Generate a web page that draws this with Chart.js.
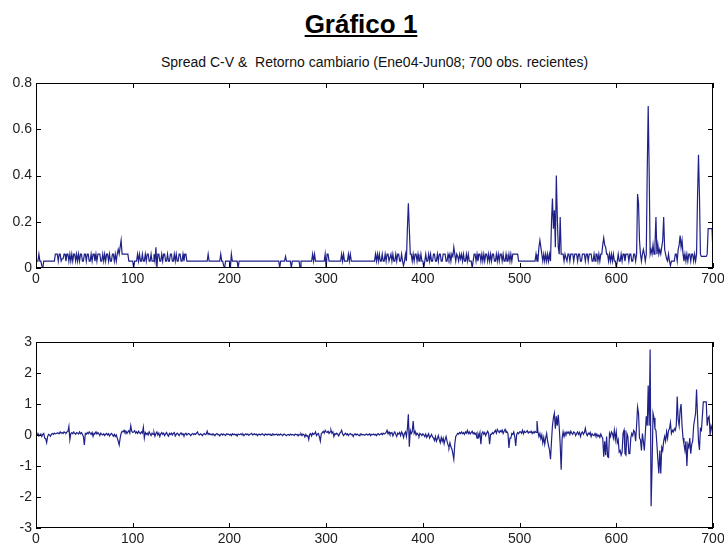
<!DOCTYPE html>
<html>
<head>
<meta charset="utf-8">
<script src="https://cdn.jsdelivr.net/npm/chart.js@4.4.1/dist/chart.umd.min.js"></script>
<style>
  body { margin: 0; background: #fff; font-family: 'Liberation Sans', Arial, sans-serif; }
  #page { position: relative; width: 724px; height: 546px; overflow: hidden; background: #fff; }
  h1 { position: absolute; top: 9px; left: 0; width: 722px; margin: 0; text-align: center;
       font-size: 26px; line-height: 30px; font-weight: bold; text-decoration: underline; color: #000; }
  #subtitulo { position: absolute; top: 53px; left: 36px; width: 677px; text-align: center;
       font-size: 14px; line-height: 18px; color: #111; white-space: pre; }
  .panel { position: absolute; left: 0; width: 724px; }
</style>
</head>
<body>
<div id="page">
  <h1>Gráfico 1</h1>
  <div id="subtitulo"></div>
  <div class="panel" style="top:40px;height:250px"><canvas id="spreadChart" width="724" height="250"></canvas></div>
  <div class="panel" style="top:300px;height:246px"><canvas id="retornoChart" width="724" height="246"></canvas></div>
</div>
<script>
// spread compra-venta, 700 observaciones
const spread = [
  .03,.03,.06,.03,.03,.01,0,.03,.03,.03,
  .03,.03,.03,.03,.03,.03,.03,.03,.03,.06,
  .06,.06,.03,.06,.06,.03,.04,.04,.06,.06,
  .03,.06,.06,.03,.06,.03,.06,.03,.06,.06,
  .03,.06,.03,.06,.03,.06,.06,.03,.03,.06,
  .06,.03,.06,.06,.03,.03,.06,.03,.06,.06,
  .03,.06,.03,.06,.06,.06,.03,.03,.06,.03,
  .06,.03,.06,.06,.03,.06,.03,.03,.06,.06,
  .03,.06,.03,.06,.08,.06,.09,.12,.06,.06,
  .06,.06,.06,.06,.06,.03,.03,.03,.03,.03,
  0,.03,.03,.03,.06,.03,.06,.03,.03,.06,
  .03,.03,.06,.03,.06,.06,.03,.03,.06,.03,
  .03,.06,.03,.09,0,.06,.06,.03,.03,.06,
  .03,.06,.06,.03,.03,.06,.03,.03,.06,.06,
  .03,.03,.06,.03,.06,.03,.03,.06,.06,.03,
  .03,.06,.03,.06,.06,.03,.03,.03,.03,.03,
  .03,.03,.03,.03,.03,.03,.03,.03,.03,.03,
  .03,.03,.03,.03,.03,.03,.03,.06,.03,.03,
  .03,.03,.03,.03,.03,.03,.03,.03,.03,.03,
  .06,.03,.03,.01,0,.03,.03,.03,.03,.03,
  0,.06,.03,.03,.03,.03,.03,.03,0,.03,
  .03,.03,.03,.03,.03,.03,.03,.03,.03,.03,
  .03,.03,.03,.03,.03,.03,.03,.03,.03,.03,
  .03,.03,.03,.03,.03,.03,.03,.03,.03,.03,
  .03,.03,.03,.03,.03,.03,.03,.03,.03,.03,
  .03,0,.03,.03,.03,.03,.03,.05,.03,.03,
  .03,.03,.03,0,.03,.03,.03,.03,.03,.03,
  .03,.03,0,.03,.03,.03,.03,.03,.03,.03,
  .03,.03,.03,.03,.03,.06,.03,.06,.03,.03,
  .03,.03,.03,.03,.03,.03,.03,.03,.06,0,
  .06,.06,.03,.03,.03,.03,.03,.03,.03,.03,
  .03,.03,.03,.03,.03,.06,.03,.06,.03,.03,
  .03,.03,.06,.03,.06,.03,.03,.03,.03,.03,
  .03,.03,.03,.03,.03,.03,.03,.03,.03,.03,
  .03,.03,.03,.03,.03,.03,.03,.03,.03,.03,
  .06,.03,.06,.03,.06,.03,.03,.06,.03,.03,
  .06,.03,.06,.06,.03,.03,.06,.03,.06,.03,
  .03,.06,.03,.06,.06,.03,.03,.06,.03,.01,
  .03,.06,.03,.17,.28,.17,.06,.06,.03,.06,
  .03,.06,.06,.03,.06,.03,.03,.06,.03,.03,
  0,.03,.06,.03,.03,.06,.03,.06,.03,.03,
  .06,.06,.03,.03,.06,.03,.06,.06,.03,.03,
  .06,.06,.06,.03,.03,.06,.04,.06,.03,.06,
  .05,.09,.06,.03,.06,.05,.03,.06,.04,.06,
  .03,.06,.03,.03,.06,.03,.06,.03,.03,.03,
  0,.03,.06,.06,.03,.06,.03,.06,.06,.03,
  .06,.03,.06,.03,.06,.06,.03,.06,.03,.06,
  .03,.06,.06,.03,.03,.06,.03,.06,.03,.06,
  .06,.03,.06,.03,.03,.06,.03,.03,.06,.03,
  .06,.03,.06,.06,.06,.06,.06,.06,.03,.03,
  .03,.03,.03,.03,.03,.03,.03,.03,.03,.03,
  .03,.03,.03,.03,.03,.03,.06,.03,.03,.09,
  .12,.09,.06,.03,.06,.03,.06,.03,.06,.03,
  .06,.03,.2,.3,.17,.25,.09,.4,.22,.09,
  .06,.22,.06,.06,.06,.03,.06,.06,.03,.06,
  .06,.03,.06,.06,.06,.03,.06,.06,.06,.03,
  .06,.06,.03,.03,.06,.06,.06,.03,.06,.06,
  .03,.06,.06,.06,.03,.03,.06,.03,.06,.06,
  .03,.06,.03,.06,.06,.1,.13,.1,.09,.06,
  .06,.03,.06,.03,.06,.03,.06,.03,.03,0,
  .03,.06,.03,.03,.06,.03,.06,.06,.03,.06,
  .06,.06,.03,.06,.06,.03,.03,.06,.06,.03,
  .06,.32,.28,.12,.06,.03,.06,.08,.06,.03,
  .06,.42,.7,.42,.06,.08,.06,.1,.06,.1,
  .22,.06,.1,.06,.08,.06,.09,.12,.22,.08,
  .06,.04,.03,.06,.03,.01,.03,.03,.03,.03,
  .06,.06,.03,.08,.1,.14,.09,.12,.06,.03,
  .06,.03,.06,.03,.06,.06,.03,.06,.06,.03,
  .06,.03,.06,.31,.49,.31,.06,.05,.05,.05,
  .05,.05,.05,.06,.17,.17,.17,.17,.17,.06
];

// retorno cambiario, mismas 700 observaciones
const retorno = [
  0,.05,-.03,0,.03,-.05,.02,.05,-.1,-.12,
  -.25,-.05,.02,0,-.04,.03,.05,.02,.06,.04,
  .05,.07,.06,.04,.1,.06,.08,.05,.1,.08,
  .06,.1,.12,.28,-.15,.05,.08,.04,.1,.05,
  .02,.08,.06,.03,.1,.04,.08,.02,-.05,-.32,
  .05,.02,.08,.04,.1,.06,.02,.08,-.04,.06,
  .05,.1,.03,.08,.04,-.02,.06,.02,0,.04,
  -.02,.03,.05,0,.04,-.03,.02,.05,.01,-.04,
  .02,-.05,0,-.1,-.2,-.32,-.1,.05,.12,.1,
  .15,.08,.12,.05,.1,.14,.06,.3,.12,.08,
  .1,.14,.06,.1,.05,.12,.08,.04,.1,.06,
  .25,-.1,.08,.02,.06,0,.1,.04,-.02,.06,
  .02,.08,-.04,.05,.1,0,.06,-.05,.04,.08,
  .02,.06,-.02,.04,.08,.01,-.04,.05,.02,.06,
  0,.05,.08,-.03,.02,.06,.03,-.02,.04,.07,
  .01,.04,-.02,.03,.06,0,.03,.05,.02,-.02,
  .03,.05,.01,.04,.02,.06,.1,.02,0,.04,
  .02,-.02,.03,.05,.01,.03,.12,.02,.05,.01,
  .03,0,.04,.02,-.02,.03,.05,.01,.02,-.03,
  .02,.04,0,.03,.01,-.02,.04,.02,.03,0,
  .02,-.02,.04,.01,.03,0,.02,-.03,.03,.01,
  .02,.04,0,.03,-.02,.02,.04,.01,.03,-.01,
  .02,.03,.05,0,.02,.04,.01,.03,-.02,.02,
  .03,0,.02,.04,.01,-.02,.03,.02,0,.03,
  .01,.03,-.01,.02,.04,0,.02,.01,.03,-.01,
  .02,0,.03,.01,-.02,.02,.03,0,-.02,.01,
  .02,-.01,.03,0,.02,.01,-.02,.03,.01,.02,
  -.03,.02,0,.04,-.02,.03,.01,-.06,.02,-.04,
  -.02,-.15,.02,.05,-.03,.06,.02,.04,.1,-.02,
  .03,.05,-.05,-.2,.04,.08,.12,.06,.15,.1,
  .08,.12,.05,.1,.16,.06,.1,-.05,.04,.02,
  .06,.02,-.03,.05,.08,.15,.04,-.02,.03,.06,
  .01,.04,-.02,.03,.05,.01,.02,-.05,.02,.04,
  0,.03,.01,-.02,.02,.04,0,.02,.01,-.01,
  .02,.03,0,.01,.04,-.02,.02,.01,.03,0,
  .02,-.02,.03,.04,0,.02,.05,.01,.06,.03,
  .05,.08,.15,.04,.1,.02,.06,.08,-.03,.05,
  .1,.02,-.05,.06,.03,.08,-.02,.1,.04,-.08,
  .05,.1,-.05,.2,.67,-.38,.15,.05,.1,.45,
  .05,.12,0,.06,.02,-.04,.05,.02,-.02,.04,
  0,-.05,.03,-.08,-.02,.04,-.1,-.04,.02,-.06,
  -.1,-.18,-.05,-.2,-.12,-.02,-.15,-.25,-.08,-.2,
  -.1,-.28,-.15,-.05,-.2,-.32,-.4,-.25,-.38,-.45,
  -.6,-.78,-.3,-.05,0,.05,.03,.08,.05,.1,
  .04,.08,.02,.1,.06,.15,.05,.1,.03,.08,
  .12,.04,.08,.02,.06,-.1,.04,-.05,.08,-.3,
  .05,.1,.02,.08,-.02,.06,.12,.04,-.3,.02,
  .02,.08,.04,.1,.15,.06,.18,.12,.08,.14,
  .1,.16,.05,.12,.18,.08,.1,.04,-.42,-.1,
  -.1,.05,.02,.1,-.05,-.35,.02,.08,.04,.1,
  .1,.06,.15,.04,.12,.08,.1,.14,.06,.1,
  .08,.12,.05,.1,.06,.12,.08,.45,.1,-.05,
  .05,-.12,0,-.25,-.08,-.3,-.1,.05,-.2,-.35,
  -.5,-.78,-.2,.3,.55,.7,.2,.6,.3,.65,
  .25,-.3,-1.12,-.1,.1,-.05,.08,.02,.1,.05,
  .1,.02,.12,.06,.02,.1,.08,-.02,.05,.1,
  .02,.08,-.05,.06,.1,.02,.08,.22,.05,-.02,
  .06,.02,.08,-.05,.04,0,-.02,.05,-.03,.02,
  -.05,0,-.08,.03,-.05,-.1,-.7,-.2,-.65,-.05,
  -.7,-.72,.05,-.05,.1,.05,-.1,.15,-.15,.1,
  -.25,-.15,-.55,-.5,-.65,-.55,.05,.15,-.6,-.65,
  .05,-.05,-.6,-.6,-.1,.05,-.02,.15,.1,-.2,
  .3,.9,.7,-.1,-.15,-.5,.05,-.2,-.5,.05,
  .6,.3,1.6,.3,2.76,-2.3,-1.0,.7,.55,.2,
  .15,-.3,-.8,-1.24,-.5,-1.24,-.4,-.5,-.2,-.05,
  -.2,.1,-.1,.15,.2,.4,.05,.15,.1,.2,
  .15,.3,1.24,.5,.3,.8,1.0,.3,-.1,-.3,
  -.5,-.2,-1.0,-.3,-.4,-.1,-.6,-.3,-.2,.3,
  .5,.7,1.47,.6,-.2,-.48,.2,.15,.6,1.07,
  1.07,1.07,1.07,.3,.55,.6,0,.3,.2,-.1
];

const titulo = 'Spread C-V &  Retorno cambiario (Ene04-Jun08; 700 obs. recientes)';
const xRange = [0, 700];
const spreadRange = [0, 0.8];
const retornoRange = [-3, 3];

const lineColor = '#1f2188';
const fontFamily = "'Liberation Sans', Arial, sans-serif";
const tickFont = { family: fontFamily, size: 14 };

document.getElementById('subtitulo').textContent = titulo;

// matlab-style box with inward tick marks on all four sides
const boxTicks = {
  id: 'boxTicks',
  afterDatasetsDraw(chart) {
    const { ctx, chartArea: a, scales: { x, y } } = chart;
    const len = 5;
    ctx.save();
    ctx.strokeStyle = '#000';
    ctx.lineWidth = 1;
    ctx.strokeRect(Math.round(a.left) + 0.5, Math.round(a.top) + 0.5,
                   Math.round(a.width) - 1, Math.round(a.height) - 1);
    ctx.beginPath();
    x.ticks.forEach(t => {
      const px = Math.round(x.getPixelForValue(t.value)) + 0.5;
      ctx.moveTo(px, a.bottom); ctx.lineTo(px, a.bottom - len);
      ctx.moveTo(px, a.top); ctx.lineTo(px, a.top + len);
    });
    y.ticks.forEach(t => {
      const py = Math.round(y.getPixelForValue(t.value)) + 0.5;
      ctx.moveTo(a.left, py); ctx.lineTo(a.left + len, py);
      ctx.moveTo(a.right, py); ctx.lineTo(a.right - len, py);
    });
    ctx.stroke();
    ctx.restore();
  }
};

function makePanel(canvasId, values, yRange, yStep, opts) {
  const ctx = document.getElementById(canvasId).getContext('2d');
  return new Chart(ctx, {
    type: 'line',
    data: {
      datasets: [{
        data: values.map((v, i) => ({ x: i + 1, y: v })),
        borderColor: lineColor,
        borderWidth: 1.2,
        pointRadius: 0,
        tension: 0,
        fill: false
      }]
    },
    options: {
      responsive: false,
      animation: false,
      layout: { padding: { top: opts.padTop, right: 11, left: 0, bottom: 0 } },
      plugins: {
        legend: { display: false },
        tooltip: { enabled: false },
        title: { display: false }
      },
      scales: {
        x: {
          type: 'linear',
          min: xRange[0],
          max: xRange[1],
          ticks: { stepSize: 100, color: '#222', font: tickFont, padding: 3, maxRotation: 0 },
          grid: { display: false, drawTicks: false },
          border: { display: false },
          afterFit(s) { s.height = opts.xHeight; s.paddingLeft = 0; s.paddingRight = 0; }
        },
        y: {
          min: yRange[0],
          max: yRange[1],
          ticks: { stepSize: yStep, color: '#222', font: tickFont, padding: 4 },
          grid: { display: false, drawTicks: false },
          border: { display: false },
          afterFit(s) { s.width = 36; s.paddingTop = 0; s.paddingBottom = 0; }
        }
      }
    },
    plugins: [boxTicks]
  });
}

makePanel('spreadChart', spread, spreadRange, 0.2, { padTop: 43, xHeight: 22 });
makePanel('retornoChart', retorno, retornoRange, 1, { padTop: 42, xHeight: 18 });
</script>
</body>
</html>
